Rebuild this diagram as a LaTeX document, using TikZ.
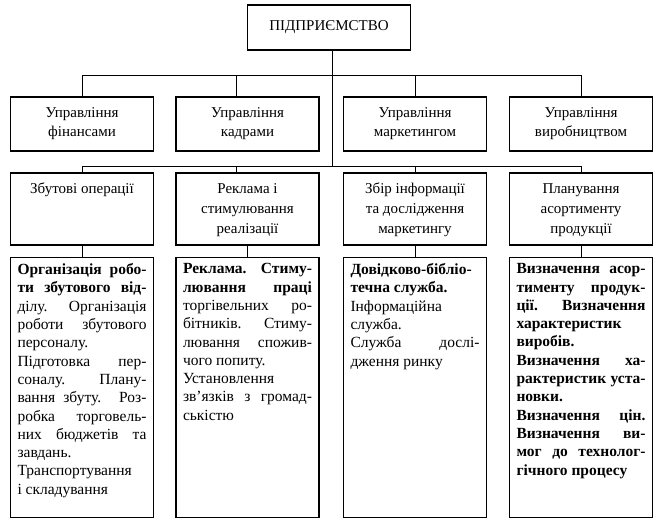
\documentclass[tikz,border=0pt]{standalone}
\usepackage{fontspec}
\setmainfont{Liberation Serif}
\newlength\bw
\setlength\bw{129pt}
\newcommand\jl[1]{\makebox[\bw][s]{#1}}
\tikzset{
  box/.style={draw, line width=1.2pt, inner sep=0pt, minimum width=143pt, align=center},
  toprow/.style={box, minimum height=54pt, font=\fontsize{15}{19}\selectfont},
  midrow/.style={box, minimum height=72pt, font=\fontsize{15}{20}\selectfont},
  lowrow/.style={box, anchor=north, inner xsep=7pt, inner ysep=6pt, font=\fontsize{15.5}{18.3}\selectfont},
  conn/.style={line width=1pt}
}
\begin{document}
\begin{tikzpicture}[x=1pt,y=-1pt]
\useasboundingbox (0,0) rectangle (666,532);
% top
\node[box, minimum width=163pt, minimum height=45pt, font=\fontsize{15}{17}\selectfont] (top) at (329,27.5) {ПІДПРИЄМСТВО};
% row 2
\node[toprow] (r2a) at (82,124) {Управління\\фінансами};
\node[toprow] (r2b) at (247.5,124) {Управління\\кадрами};
\node[toprow] (r2c) at (415,124) {Управління\\маркетингом};
\node[toprow] (r2d) at (581,124) {Управління\\виробництвом};
% row 3
\node[midrow] (r3a) at (82,209) {\strut Збутові операції\\\strut\\\strut};
\node[midrow] (r3b) at (247.5,209) {\strut Реклама і\\\strut стимулювання\\\strut реалізації};
\node[midrow] (r3c) at (415,209) {\strut Збір інформації\\\strut та дослідження\\\strut маркетингу};
\node[midrow] (r3d) at (581,209) {\strut Планування\\\strut асортименту\\\strut продукції};
% row 4
\node[lowrow] (r4a) at (82,257) {\begin{minipage}[t][248pt][t]{\bw}
\jl{\bfseries Організація робо-}\\
\jl{\bfseries ти збутового від-}\\
\jl{ділу. Організація}\\
\jl{роботи збутового}\\
персоналу.\\
\jl{Підготовка пер-}\\
\jl{соналу. Плану-}\\
\jl{вання збуту. Роз-}\\
\jl{робка торговель-}\\
\jl{них бюджетів та}\\
завдань.\\
Транспортування\\
і складування
\end{minipage}};
\node[lowrow] (r4b) at (247.5,257) {\begin{minipage}[t][248pt][t]{\bw}
\jl{\bfseries Реклама. Стиму-}\\
\jl{\bfseries лювання праці}\\
\jl{торгівельних ро-}\\
\jl{бітників. Стиму-}\\
\jl{лювання спожив-}\\
чого попиту.\\
Установлення\\
\jl{зв’язків з громад-}\\
ськістю
\end{minipage}};
\node[lowrow] (r4c) at (415,257) {\begin{minipage}[t][248pt][t]{\bw}
\jl{\bfseries Довідково-бібліо-}\\
{\bfseries течна служба.}\\
Інформаційна\\
служба.\\
\jl{Служба дослі-}\\
дження ринку
\end{minipage}};
\node[lowrow] (r4d) at (581,257) {\begin{minipage}[t][248pt][t]{\bw}\bfseries
\jl{Визначення асор-}\\
\jl{тименту продук-}\\
\jl{ції. Визначення}\\
характеристик\\
виробів.\\
\jl{Визначення ха-}\\
\jl{рактеристик уста-}\\
новки.\\
\jl{Визначення цін.}\\
\jl{Визначення ви-}\\
\jl{мог до технолог-}\\
гічного процесу
\end{minipage}};
% bus coordinates
\coordinate (b1) at (0,76);
\coordinate (b3) at (0,166);
\coordinate (k1) at (236,0);
\coordinate (k2) at (332,0);
% central trunk
\draw[conn] (top.south -| k2) -- (k2 |- b3);
% bus 1
\draw[conn] (r2a.north) -- (r2a.north |- b1) -- (r2d.north |- b1) -- (r2d.north);
\draw[conn] (r2b.north -| k1) -- (k1 |- b1);
\draw[conn] (r2c.north) -- (r2c.north |- b1);
% bus 3
\draw[conn] (r3a.north) -- (r3a.north |- b3) -- (r3d.north |- b3) -- (r3d.north);
\draw[conn] (r3b.north -| k1) -- (k1 |- b3);
\draw[conn] (r3c.north) -- (r3c.north |- b3);
% row 3 to row 4
\draw[conn] (r3a.south) -- (r4a.north);
\draw[conn] (r3b.south) -- (r4b.north);
\draw[conn] (r3c.south) -- (r4c.north);
\draw[conn] (r3d.south) -- (r4d.north);
\end{tikzpicture}
\end{document}
